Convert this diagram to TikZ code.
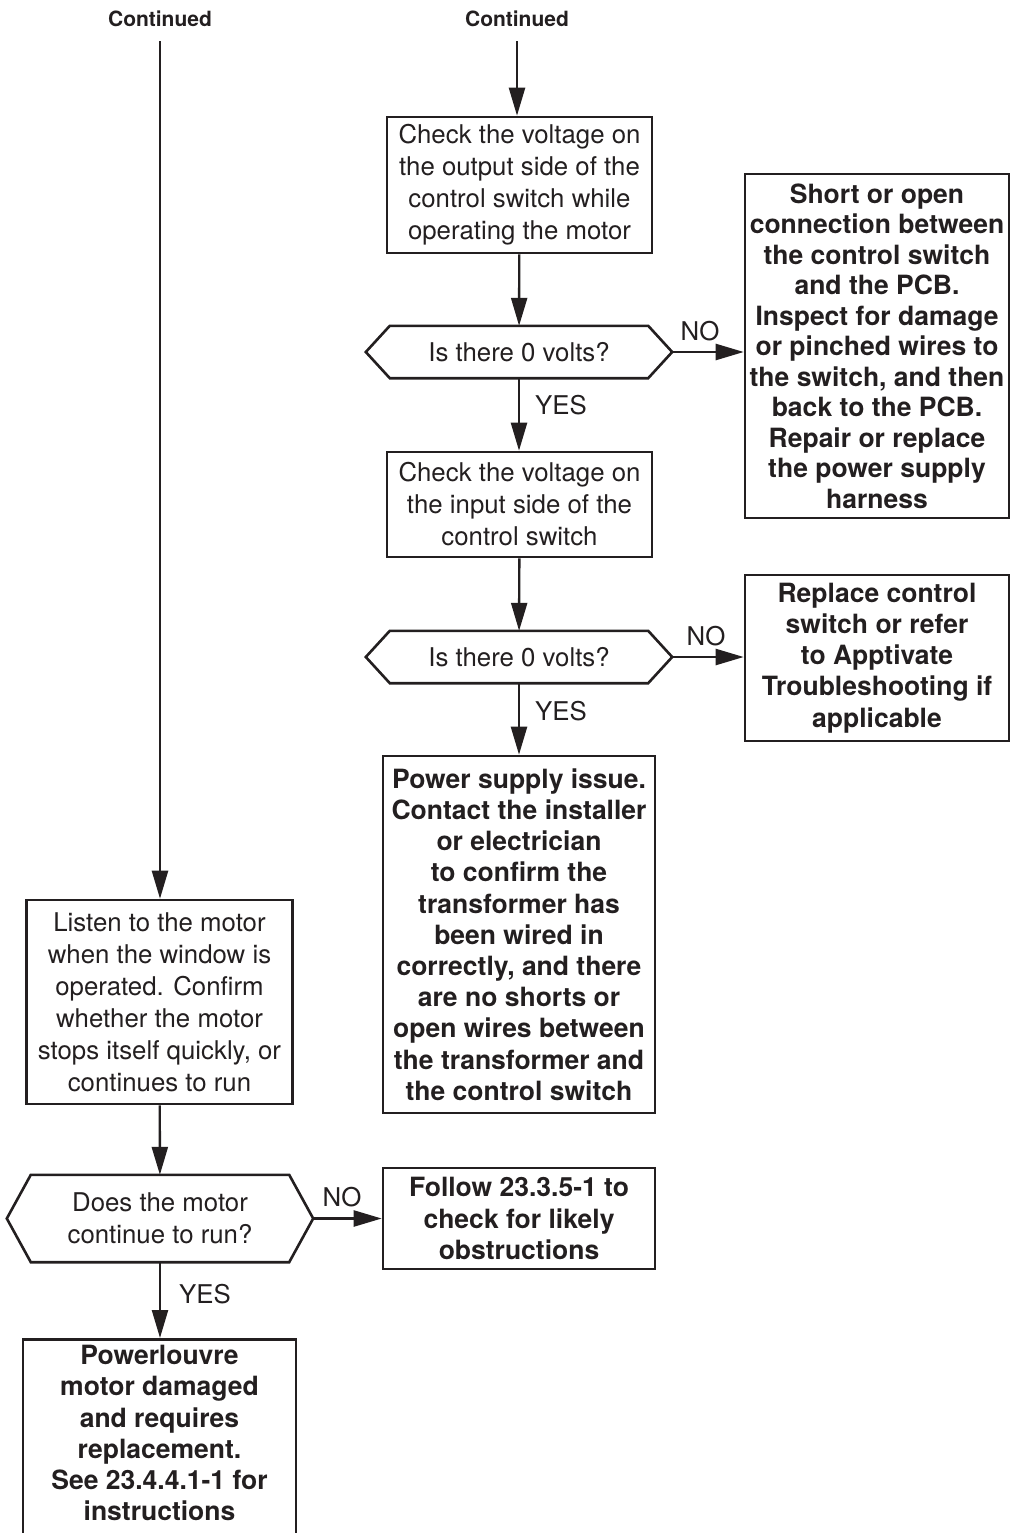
\documentclass[tikz,border=0pt]{standalone}
\usepackage{fontspec}
\setmainfont{TeX Gyre Heros}
\usetikzlibrary{arrows.meta,calc}
\definecolor{ink}{RGB}{35,31,32}
\begin{document}
\begin{tikzpicture}[x=1pt,y=-1pt,
  every node/.style={text=ink},
  regtxt/.style={font=\fontsize{25.8}{32}\selectfont},
  boldtxt/.style={font=\bfseries\fontsize{26.5}{31.2}\selectfont},
  tighttxt/.style={font=\bfseries\fontsize{26.5}{30.5}\selectfont},
  box/.style={draw=ink, line width=2.6pt, inner sep=0pt, align=center},
  hexnode/.style={draw=none, inner sep=0pt, align=center, regtxt, minimum width=258pt},
  frame/.style={draw=ink, line width=2.6pt, line join=miter},
  conn/.style={draw=ink, line width=2.4pt, -{Triangle[length=28pt,width=16pt]}},
  lbl/.style={regtxt, inner sep=0pt},
  head/.style={font=\bfseries\fontsize{21}{24}\selectfont, inner sep=0pt}
]
\useasboundingbox (0,0) rectangle (1011,1533);
\clip (0,0) rectangle (1011,1533);

% headings
\node[head] (cL) at (160,19) {Continued};
\node[head] (cR) at (517,19) {Continued};

% right column
\node[box, regtxt, minimum width=265pt, minimum height=136pt] (B1) at (519.5,185)
  {Check the voltage on\\the output side of the\\control switch while\\operating the motor};
\node[hexnode, minimum height=52pt] (D1) at (519,352) {Is there 0 volts?};
\node[box, regtxt, minimum width=265pt, minimum height=105pt] (B2) at (519.5,504.5)
  {Check the voltage on\\the input side of the\\control switch};
\node[hexnode, minimum height=52pt] (D2) at (519,657) {Is there 0 volts?};
\node[box, boldtxt, minimum width=272pt, minimum height=357pt] (B3) at (519,934.5)
  {Power supply issue.\\Contact the installer\\or electrician\\to confirm the\\transformer has\\been wired in\\correctly, and there\\are no shorts or\\open wires between\\the transformer and\\the control switch};

% far right
\node[box, tighttxt, minimum width=264pt, minimum height=344pt] (A) at (877,346)
  {Short or open\\connection between\\the control switch\\and the PCB.\\Inspect for damage\\or pinched wires to\\the switch, and then\\back to the PCB.\\Repair or replace\\the power supply\\harness};
\node[box, boldtxt, minimum width=264pt, minimum height=166pt] (Bx) at (877,658)
  {Replace control\\switch or refer\\to Apptivate\\Troubleshooting if\\applicable};

% left column
\node[box, regtxt, minimum width=266pt, minimum height=204pt] (L) at (159.5,1002)
  {Listen to the motor\\when the window is\\operated. Confirm\\whether the motor\\stops itself quickly, or\\continues to run};
\node[hexnode, minimum height=87pt] (D3) at (160,1218.5) {Does the motor\\continue to run?};
\node[box, boldtxt, minimum width=272pt, minimum height=101pt] (F) at (519,1218.5)
  {Follow 23.3.5-1 to\\check for likely\\obstructions};
\node[box, boldtxt, minimum width=273pt, anchor=north, inner ysep=6pt, text depth=100pt] (P) at (159.5,1338)
  {Powerlouvre\\motor damaged\\and requires\\replacement.\\See 23.4.4.1-1 for\\instructions};

% hexagons
\coordinate (D1r) at ($(D1.east)+(24,0)$);
\coordinate (D1l) at ($(D1.west)-(24,0)$);
\coordinate (D2r) at ($(D2.east)+(24,0)$);
\coordinate (D2l) at ($(D2.west)-(24,0)$);
\coordinate (D3r) at ($(D3.east)+(24,0)$);
\coordinate (D3l) at ($(D3.west)-(24,0)$);
\draw[frame] (D1.north west) -- (D1.north east) -- (D1r) -- (D1.south east) -- (D1.south west) -- (D1l) -- cycle;
\draw[frame] (D2.north west) -- (D2.north east) -- (D2r) -- (D2.south east) -- (D2.south west) -- (D2l) -- cycle;
\draw[frame] (D3.north west) -- (D3.north east) -- (D3r) -- (D3.south east) -- (D3.south west) -- (D3l) -- cycle;

% connectors
\draw[conn, shorten <=14pt] (cR) -- (cR |- B1.north);
\draw[conn] (B1) -- (D1);
\draw[conn] (D1) -- (D1 |- B2.north);
\draw[conn] (D1r) -- (D1r -| A.west);
\draw[conn] (B2) -- (D2);
\draw[conn] (D2) -- (D2 |- B3.north);
\draw[conn] (D2r) -- (D2r -| Bx.west);
\draw[conn, shorten <=14pt] (cL) -- (cL |- L.north);
\draw[conn] (L) -- (D3);
\draw[conn] (D3) -- (D3 |- P.north);
\draw[conn] (D3r) -- (D3r -| F.west);

% labels
\node[lbl] at (700,331) {NO};
\node[lbl] at (561,405) {YES};
\node[lbl] at (706,636) {NO};
\node[lbl] at (561,711) {YES};
\node[lbl] at (342,1197) {NO};
\node[lbl] at (205,1294) {YES};
\end{tikzpicture}
\end{document}
